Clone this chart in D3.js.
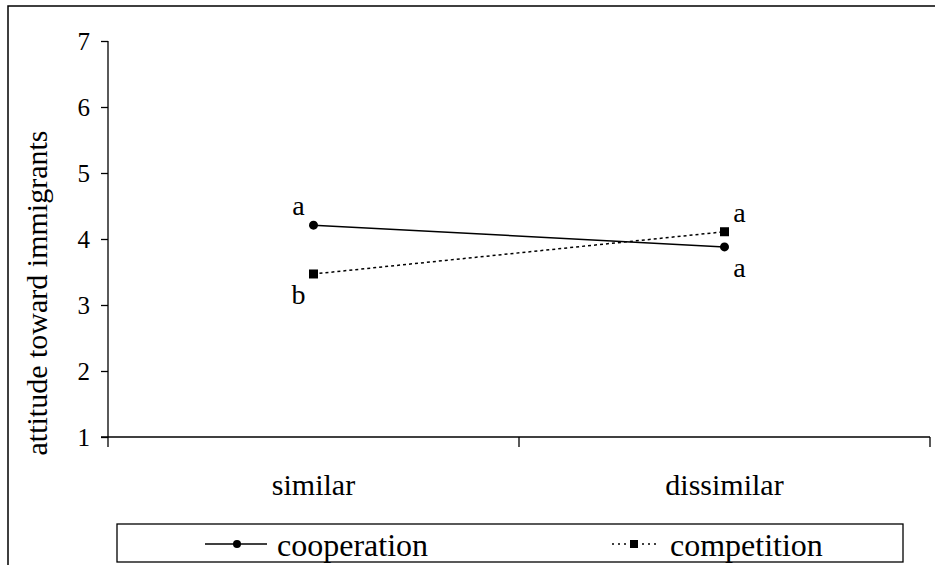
<!DOCTYPE html>
<html>
<head>
<meta charset="utf-8">
<script src="https://cdn.jsdelivr.net/npm/d3@7"></script>
</head>
<body style="margin:0">
<div id="chart-area"></div>
<script>
const categories = ["similar", "dissimilar"]
const seriesNames = ["cooperation", "competition"]
const cooperation = [4.21, 3.88]
const competition = [3.47, 4.11]
const yTicks = [1, 2, 3, 4, 5, 6, 7]
// significance letters: [category, series, letter]
const letters = [
    ["similar", "cooperation", "a"],
    ["similar", "competition", "b"],
    ["dissimilar", "competition", "a"],
    ["dissimilar", "cooperation", "a"]
]

const FONT = "Liberation Serif"
const W = 935, H = 565
const AX = { LEFT: 108, RIGHT: 930, TOP: 41, BOTTOM: 437 }

const svg = d3.select("#chart-area").append("svg")
    .attr("width", W)
    .attr("height", H)

// outer frame
svg.append("rect")
    .attr("x", 8).attr("y", 6)
    .attr("width", W).attr("height", H)
    .attr("fill", "none")
    .attr("stroke", "#000")
    .attr("stroke-width", 1.5)

const x = d3.scaleBand()
    .domain(categories)
    .range([AX.LEFT, AX.RIGHT])

const y = d3.scaleLinear()
    .domain([1, 7])
    .range([AX.BOTTOM, AX.TOP])

// y axis
const yAxisCall = d3.axisLeft(y)
    .tickValues(yTicks)
    .tickSize(7)
    .tickPadding(11)
    .tickFormat(d3.format("d"))
svg.append("g")
    .attr("class", "y axis")
    .attr("transform", `translate(${AX.LEFT}, 0)`)
    .call(yAxisCall)
    .attr("font-family", null)
    .attr("font-size", null)
    .call(g => g.select(".domain").attr("d", `M0,${AX.TOP}V${AX.BOTTOM}`))
    .call(g => g.selectAll("text").attr("fill", "#000").attr("font-family", FONT).attr("font-size", 25))
    .call(g => g.selectAll("line, path").attr("stroke", "#000").attr("stroke-width", 1.3))

// x axis: baseline with ticks at band edges
const xg = svg.append("g").attr("class", "x axis")
xg.append("line")
    .attr("x1", AX.LEFT - 7).attr("x2", AX.RIGHT)
    .attr("y1", AX.BOTTOM).attr("y2", AX.BOTTOM)
    .attr("stroke", "#000").attr("stroke-width", 1.3)
const edges = categories.map(c => x(c)).concat([x(categories[categories.length - 1]) + x.bandwidth()])
xg.selectAll(".edge").data(edges).enter().append("line")
    .attr("x1", d => d).attr("x2", d => d)
    .attr("y1", AX.BOTTOM).attr("y2", AX.BOTTOM + 10)
    .attr("stroke", "#000").attr("stroke-width", 1.3)
xg.selectAll(".cat").data(categories).enter().append("text")
    .attr("x", d => x(d) + x.bandwidth() / 2)
    .attr("y", 495)
    .attr("text-anchor", "middle")
    .attr("font-family", FONT)
    .attr("font-size", 30)
    .text(d => d)

// y label
svg.append("text")
    .attr("transform", "translate(47, 293) rotate(-90)")
    .attr("text-anchor", "middle")
    .attr("font-family", FONT)
    .attr("font-size", 30)
    .text("attitude toward immigrants")

const cx = d => x(d) + x.bandwidth() / 2
const line = d3.line()
    .x(d => cx(d.cat))
    .y(d => y(d.v))

const series = [
    { name: "cooperation", values: cooperation, dash: null, shape: "circle" },
    { name: "competition", values: competition, dash: "3,3", shape: "square" }
]
series.forEach(s => {
    const pts = categories.map((c, i) => ({ cat: c, v: s.values[i] }))
    svg.append("path")
        .datum(pts)
        .attr("d", line)
        .attr("fill", "none")
        .attr("stroke", "#000")
        .attr("stroke-width", 1.5)
        .attr("stroke-dasharray", s.dash)
    if (s.shape === "circle") {
        svg.selectAll(".pt-" + s.name).data(pts).enter().append("circle")
            .attr("cx", d => cx(d.cat)).attr("cy", d => y(d.v))
            .attr("r", 4.5).attr("fill", "#000")
    } else {
        svg.selectAll(".pt-" + s.name).data(pts).enter().append("rect")
            .attr("x", d => cx(d.cat) - 4.5).attr("y", d => y(d.v) - 4.5)
            .attr("width", 9).attr("height", 9).attr("fill", "#000")
    }
})

// letters: above the higher point, below the lower point
const valueOf = (cat, name) => (name === "cooperation" ? cooperation : competition)[categories.indexOf(cat)]
svg.selectAll(".letter").data(letters).enter().append("text")
    .attr("x", d => cx(d[0]) + (d[0] === "similar" ? -15 : 15))
    .attr("y", d => {
        const v = valueOf(d[0], d[1])
        const other = valueOf(d[0], d[1] === "cooperation" ? "competition" : "cooperation")
        return v >= other ? y(v) - 10 : y(v) + 30
    })
    .attr("text-anchor", "middle")
    .attr("font-family", FONT)
    .attr("font-size", 28)
    .text(d => d[2])

// legend
const lg = svg.append("g").attr("class", "legend")
lg.append("rect")
    .attr("x", 117).attr("y", 524)
    .attr("width", 786).attr("height", 38)
    .attr("fill", "#fff")
    .attr("stroke", "#000")
    .attr("stroke-width", 1.3)
const items = lg.selectAll(".item").data(series).enter().append("g")
    .attr("transform", (d, i) => `translate(${205 + i * 393}, 544)`)
items.append("line")
    .attr("x1", d => d.dash ? 14 : 0).attr("x2", d => d.dash ? 58 : 62)
    .attr("stroke", "#000").attr("stroke-width", 1.5)
    .attr("stroke-dasharray", d => d.dash ? "2,4" : null)
items.each(function(d) {
    const g = d3.select(this)
    if (d.shape === "circle") g.append("circle").attr("cx", 32).attr("r", 4).attr("fill", "#000")
    else g.append("rect").attr("x", 32).attr("y", -4).attr("width", 8).attr("height", 8).attr("fill", "#000")
})
items.append("text")
    .attr("x", 72).attr("y", 12)
    .attr("font-family", FONT)
    .attr("font-size", 32)
    .text(d => d.name)
</script>
</body>
</html>
